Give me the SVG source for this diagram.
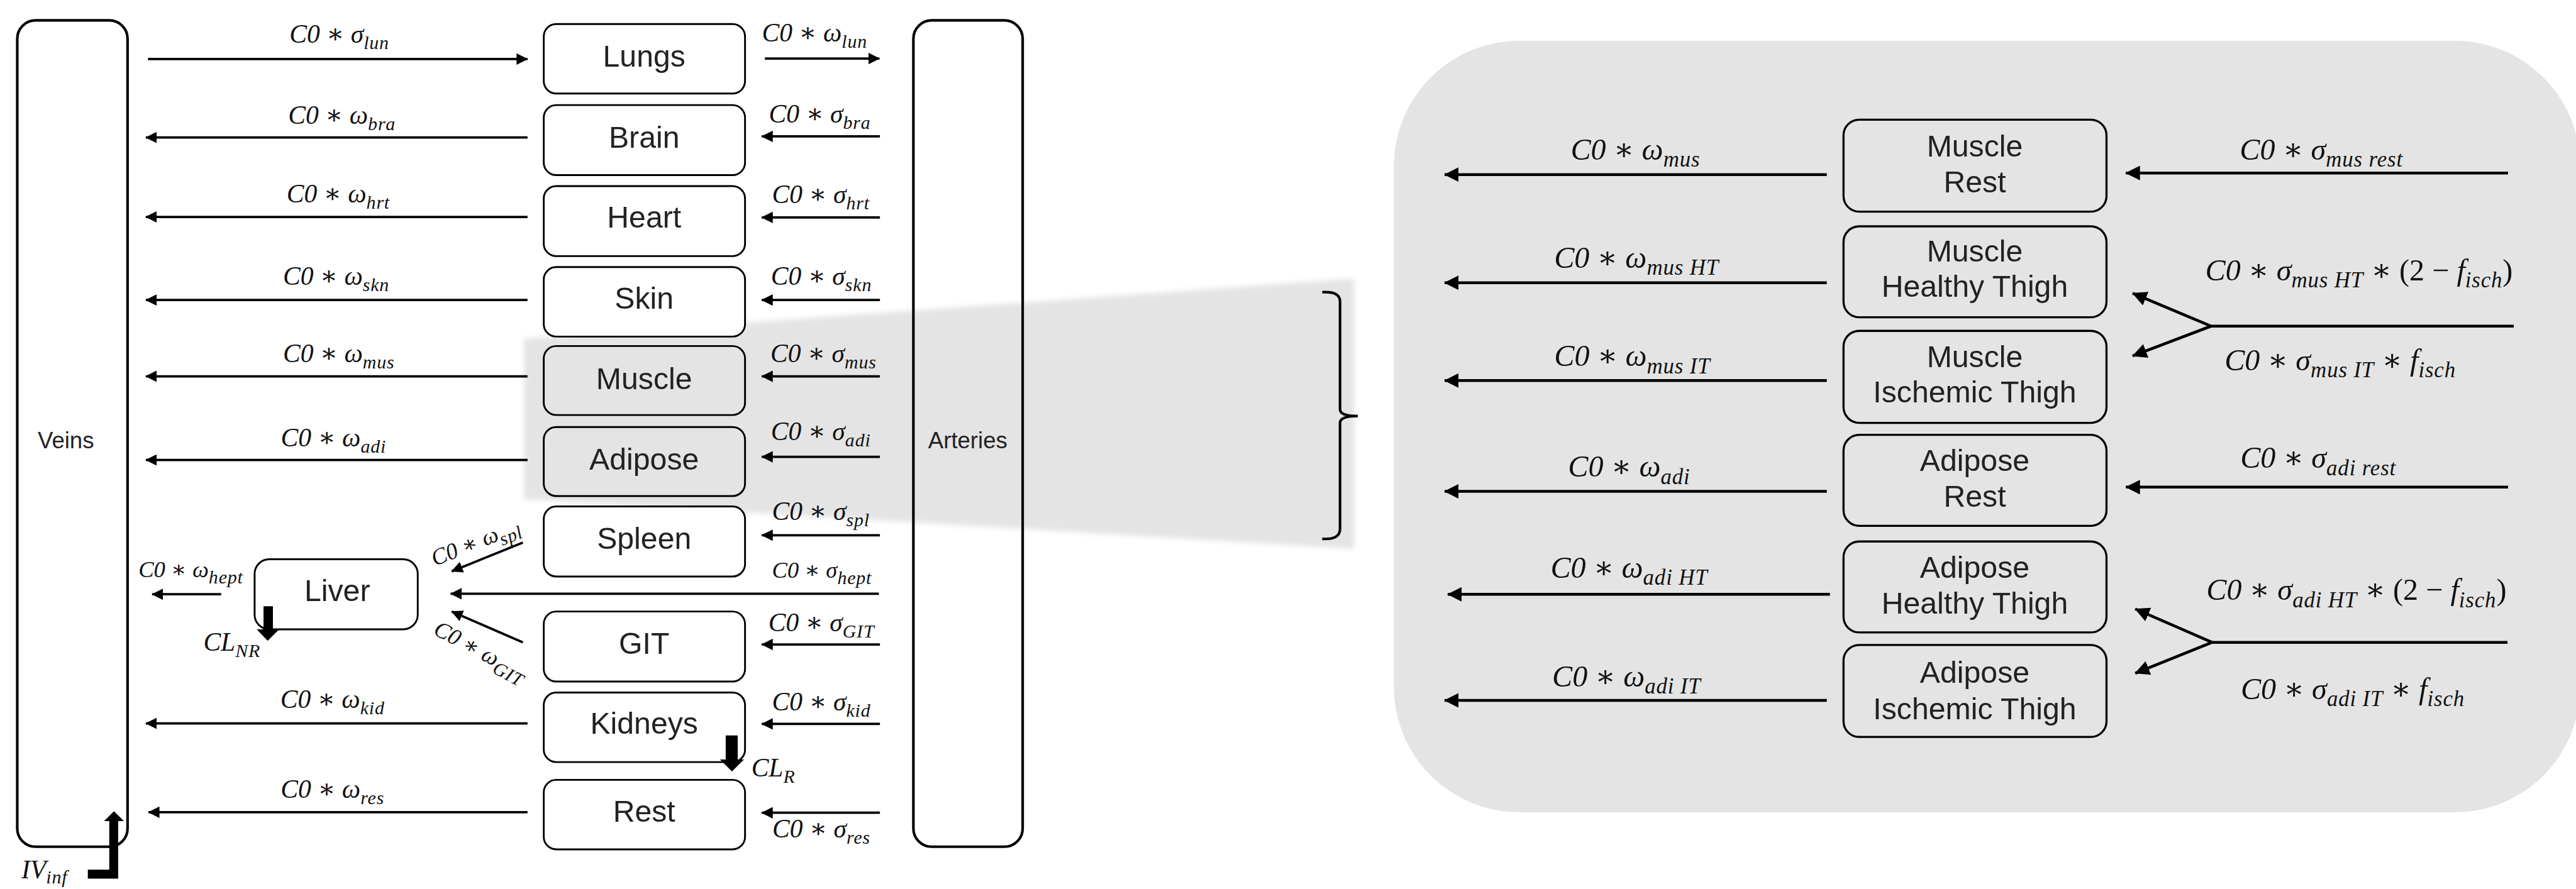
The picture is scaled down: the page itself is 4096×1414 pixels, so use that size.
<svg xmlns="http://www.w3.org/2000/svg" width="4096" height="1414" viewBox="0 0 4096 1414">
<defs>
<style>
.box{fill:#fff;stroke:#000;stroke-width:3.5}
.gbox{fill:#e4e4e4;stroke:#000;stroke-width:3.5}
.pbox{fill:#e4e4e4;stroke:#000;stroke-width:4}
.big{fill:none;stroke:#000;stroke-width:5}
.lbl{font-family:"Liberation Sans",Arial,sans-serif;font-size:58px;fill:#222;text-anchor:middle}
.vl{font-family:"Liberation Sans",Arial,sans-serif;font-size:44px;fill:#222;text-anchor:middle}
.m{font-family:"Liberation Serif","DejaVu Serif",serif;font-style:italic;font-size:50px;fill:#111;text-anchor:middle}
.ms{font-size:44px}
.m2{font-family:"Liberation Serif","DejaVu Serif",serif;font-style:italic;font-size:58px;fill:#111;text-anchor:middle}
.s{font-size:36px;letter-spacing:1px}
.s2{font-size:42px;letter-spacing:1px}
.u{font-style:normal}
.st{text-anchor:start}
.a{stroke:#000;stroke-width:4.5;fill:none;marker-end:url(#ah)}
.a2{stroke:#000;stroke-width:5.5;fill:none;marker-end:url(#ah2)}
.ln{stroke:#000;stroke-width:5.5;fill:none}
.fat{fill:#000;stroke:none}
</style>
<marker id="ah" viewBox="0 0 22 22" markerWidth="22" markerHeight="22" refX="21" refY="11" orient="auto" markerUnits="userSpaceOnUse"><path d="M0,0 L22,11 L0,22 z" fill="#000"/></marker>
<marker id="ah2" viewBox="0 0 28 28" markerWidth="28" markerHeight="28" refX="27" refY="14" orient="auto" markerUnits="userSpaceOnUse"><path d="M0,0 L28,14 L0,28 z" fill="#000"/></marker>
<filter id="soft" x="-5%" y="-10%" width="110%" height="120%"><feGaussianBlur stdDeviation="5"/></filter>
</defs>
<rect width="4096" height="1414" fill="#fff"/>
<g transform="scale(0.83134)">
<!-- zoom band -->
<polygon points="1002,648 2590,533 2590,1050 1002,955" fill="#e4e4e4" filter="url(#soft)"/>
<!-- right panel -->
<rect id="panel" x="2666" y="78" width="2269" height="1476" rx="240" ry="240" fill="#e4e4e4"/>

<g id="veins"><rect class="big" x="33" y="39" width="211" height="1581" rx="35"/><text class="vl" x="126" y="858">Veins</text></g>
<g id="arteries"><rect class="big" x="1747" y="39" width="209" height="1581" rx="35"/><text class="vl" x="1851" y="858">Arteries</text></g>

<g id="lungs"><rect class="box" x="1040" y="46" width="385" height="133" rx="24"/><text class="lbl" x="1232" y="127">Lungs</text></g>
<g id="brain"><rect class="box" x="1040" y="201" width="385" height="134" rx="24"/><text class="lbl" x="1232" y="283">Brain</text></g>
<g id="heart"><rect class="box" x="1040" y="356" width="385" height="134" rx="24"/><text class="lbl" x="1232" y="436">Heart</text></g>
<g id="skin"><rect class="box" x="1040" y="511" width="385" height="133" rx="24"/><text class="lbl" x="1232" y="591">Skin</text></g>
<g id="muscle"><rect class="gbox" x="1040" y="662" width="385" height="132" rx="24"/><text class="lbl" x="1232" y="744">Muscle</text></g>
<g id="adipose"><rect class="gbox" x="1040" y="817" width="385" height="132" rx="24"/><text class="lbl" x="1232" y="898">Adipose</text></g>
<g id="spleen"><rect class="box" x="1040" y="969" width="385" height="134" rx="24"/><text class="lbl" x="1232" y="1050">Spleen</text></g>
<g id="git"><rect class="box" x="1040" y="1170" width="385" height="134" rx="24"/><text class="lbl" x="1232" y="1251">GIT</text></g>
<g id="kidneys"><rect class="box" x="1040" y="1325" width="385" height="133" rx="24"/><text class="lbl" x="1232" y="1404">Kidneys</text></g>
<g id="rest"><rect class="box" x="1040" y="1492" width="385" height="133" rx="24"/><text class="lbl" x="1232" y="1572">Rest</text></g>
<g id="liver"><rect class="box" x="487" y="1070" width="312" height="134" rx="28"/><text class="lbl" x="645" y="1150">Liver</text></g>

<g id="p-mus-rest"><rect class="pbox" x="3526" y="229" width="503" height="176" rx="30"/><text class="lbl" x="3777" y="299">Muscle</text><text class="lbl" x="3777" y="368">Rest</text></g>
<g id="p-mus-ht"><rect class="pbox" x="3526" y="433" width="503" height="174" rx="30"/><text class="lbl" x="3777" y="500">Muscle</text><text class="lbl" x="3777" y="568">Healthy Thigh</text></g>
<g id="p-mus-it"><rect class="pbox" x="3526" y="633" width="503" height="176" rx="30"/><text class="lbl" x="3777" y="702">Muscle</text><text class="lbl" x="3777" y="770">Ischemic Thigh</text></g>
<g id="p-adi-rest"><rect class="pbox" x="3526" y="832" width="503" height="174" rx="30"/><text class="lbl" x="3777" y="901">Adipose</text><text class="lbl" x="3777" y="970">Rest</text></g>
<g id="p-adi-ht"><rect class="pbox" x="3526" y="1036" width="503" height="174" rx="30"/><text class="lbl" x="3777" y="1105">Adipose</text><text class="lbl" x="3777" y="1174">Healthy Thigh</text></g>
<g id="p-adi-it"><rect class="pbox" x="3526" y="1234" width="503" height="176" rx="30"/><text class="lbl" x="3777" y="1306">Adipose</text><text class="lbl" x="3777" y="1376">Ischemic Thigh</text></g>

<g id="connectors">
<line class="a" x1="283" y1="113" x2="1009" y2="113"/>
<line class="a" x1="1009" y1="263" x2="279" y2="263"/>
<line class="a" x1="1009" y1="415" x2="279" y2="415"/>
<line class="a" x1="1009" y1="574" x2="279" y2="574"/>
<line class="a" x1="1009" y1="720" x2="279" y2="720"/>
<line class="a" x1="1009" y1="880" x2="279" y2="880"/>
<line class="a" x1="1009" y1="1384" x2="279" y2="1384"/>
<line class="a" x1="1009" y1="1554" x2="284" y2="1554"/>
<line class="a" x1="1463" y1="112" x2="1682" y2="112"/>
<line class="a" x1="1683" y1="261" x2="1457" y2="261"/>
<line class="a" x1="1683" y1="416" x2="1457" y2="416"/>
<line class="a" x1="1683" y1="574" x2="1457" y2="574"/>
<line class="a" x1="1683" y1="720" x2="1457" y2="720"/>
<line class="a" x1="1683" y1="874" x2="1457" y2="874"/>
<line class="a" x1="1683" y1="1024" x2="1457" y2="1024"/>
<line class="a" x1="1683" y1="1233" x2="1457" y2="1233"/>
<line class="a" x1="1683" y1="1385" x2="1457" y2="1385"/>
<line class="a" x1="1683" y1="1555" x2="1457" y2="1555"/>
<line class="a" x1="1681" y1="1136" x2="862" y2="1136"/>
<line class="a" x1="1000" y1="1038" x2="864" y2="1093"/>
<line class="a" x1="1000" y1="1229" x2="864" y2="1170"/>
<line class="a" x1="423" y1="1137" x2="291" y2="1137"/>
<path class="fat" d="M504,1160 H522 V1204 H534 L512,1226 L491,1204 H504 Z"/>
<path class="fat" d="M1388,1407 H1411 V1453 H1423 L1400,1476 L1377,1453 H1388 Z"/>
<path class="fat" d="M168,1664 H209 V1571 H199 L218,1552 L237,1571 H226 V1681 H168 Z"/>
<path d="M2529,559 Q2563,557 2563,577 L2563,783 Q2563,796 2597,796 Q2563,796 2563,809 L2563,1012 Q2563,1033 2529,1031" fill="none" stroke="#000" stroke-width="5"/>
<line class="a2" x1="3494" y1="334" x2="2763" y2="334"/>
<line class="a2" x1="3494" y1="541" x2="2763" y2="541"/>
<line class="a2" x1="3494" y1="728" x2="2763" y2="728"/>
<line class="a2" x1="3494" y1="940" x2="2763" y2="940"/>
<line class="a2" x1="3500" y1="1137" x2="2769" y2="1137"/>
<line class="a2" x1="3494" y1="1340" x2="2763" y2="1340"/>
<line class="a2" x1="4797" y1="331" x2="4066" y2="331"/>
<line class="a2" x1="4797" y1="932" x2="4066" y2="932"/>
<line class="ln" x1="4808" y1="624" x2="4229" y2="624"/>
<line class="a2" x1="4229" y1="624" x2="4079" y2="561"/>
<line class="a2" x1="4229" y1="624" x2="4079" y2="681"/>
<line class="ln" x1="4796" y1="1229" x2="4231" y2="1229"/>
<line class="a2" x1="4231" y1="1229" x2="4084" y2="1165"/>
<line class="a2" x1="4231" y1="1229" x2="4084" y2="1288"/>
</g>

<g id="labels">
<text class="m" x="649" y="82">C0 <tspan class="u">∗</tspan> σ<tspan class="s" dy="12">lun</tspan></text>
<text class="m" x="654" y="237">C0 <tspan class="u">∗</tspan> ω<tspan class="s" dy="12">bra</tspan></text>
<text class="m" x="647" y="387">C0 <tspan class="u">∗</tspan> ω<tspan class="s" dy="12">hrt</tspan></text>
<text class="m" x="643" y="545">C0 <tspan class="u">∗</tspan> ω<tspan class="s" dy="12">skn</tspan></text>
<text class="m" x="648" y="693">C0 <tspan class="u">∗</tspan> ω<tspan class="s" dy="12">mus</tspan></text>
<text class="m" x="638" y="854">C0 <tspan class="u">∗</tspan> ω<tspan class="s" dy="12">adi</tspan></text>
<text class="m" x="636" y="1355">C0 <tspan class="u">∗</tspan> ω<tspan class="s" dy="12">kid</tspan></text>
<text class="m" x="636" y="1527">C0 <tspan class="u">∗</tspan> ω<tspan class="s" dy="12">res</tspan></text>
<text class="m ms" x="365" y="1104">C0 <tspan class="u">∗</tspan> ω<tspan class="s" dy="12">hept</tspan></text>
<text class="m st" x="389" y="1245">CL<tspan class="s" dy="12">NR</tspan></text>
<text class="m st" x="1437" y="1486">CL<tspan class="s" dy="12">R</tspan></text>
<text class="m st" x="41" y="1680">IV<tspan class="s" dy="10">inf</tspan></text>
<text class="m ms" x="915" y="1050" transform="rotate(-22 915 1050)">C0 <tspan class="u">∗</tspan> ω<tspan class="s" dy="12">spl</tspan></text>
<text class="m ms" x="913" y="1258" transform="rotate(28 913 1258)">C0 <tspan class="u">∗</tspan> ω<tspan class="s" dy="12">GIT</tspan></text>
<text class="m" x="1558" y="79">C0 <tspan class="u">∗</tspan> ω<tspan class="s" dy="12">lun</tspan></text>
<text class="m" x="1568" y="234">C0 <tspan class="u">∗</tspan> σ<tspan class="s" dy="12">bra</tspan></text>
<text class="m" x="1570" y="389">C0 <tspan class="u">∗</tspan> σ<tspan class="s" dy="12">hrt</tspan></text>
<text class="m" x="1571" y="545">C0 <tspan class="u">∗</tspan> σ<tspan class="s" dy="12">skn</tspan></text>
<text class="m" x="1575" y="693">C0 <tspan class="u">∗</tspan> σ<tspan class="s" dy="12">mus</tspan></text>
<text class="m" x="1570" y="842">C0 <tspan class="u">∗</tspan> σ<tspan class="s" dy="12">adi</tspan></text>
<text class="m" x="1570" y="995">C0 <tspan class="u">∗</tspan> σ<tspan class="s" dy="12">spl</tspan></text>
<text class="m ms" x="1572" y="1106">C0 <tspan class="u">∗</tspan> σ<tspan class="s" dy="12">hept</tspan></text>
<text class="m" x="1571" y="1208">C0 <tspan class="u">∗</tspan> σ<tspan class="s" dy="12">GIT</tspan></text>
<text class="m" x="1571" y="1359">C0 <tspan class="u">∗</tspan> σ<tspan class="s" dy="12">kid</tspan></text>
<text class="m" x="1571" y="1602">C0 <tspan class="u">∗</tspan> σ<tspan class="s" dy="12">res</tspan></text>

<text class="m2" x="3128" y="305">C0 <tspan class="u">∗</tspan> ω<tspan class="s2" dy="14">mus</tspan></text>
<text class="m2" x="3130" y="512">C0 <tspan class="u">∗</tspan> ω<tspan class="s2" dy="14">mus HT</tspan></text>
<text class="m2" x="3122" y="700">C0 <tspan class="u">∗</tspan> ω<tspan class="s2" dy="14">mus IT</tspan></text>
<text class="m2" x="3116" y="912">C0 <tspan class="u">∗</tspan> ω<tspan class="s2" dy="14">adi</tspan></text>
<text class="m2" x="3116" y="1105">C0 <tspan class="u">∗</tspan> ω<tspan class="s2" dy="14">adi HT</tspan></text>
<text class="m2" x="3111" y="1313">C0 <tspan class="u">∗</tspan> ω<tspan class="s2" dy="14">adi IT</tspan></text>
<text class="m2" x="4440" y="305">C0 <tspan class="u">∗</tspan> σ<tspan class="s2" dy="14">mus rest</tspan></text>
<text class="m2" x="4434" y="895">C0 <tspan class="u">∗</tspan> σ<tspan class="s2" dy="14">adi rest</tspan></text>
<text class="m2" x="4512" y="536">C0 <tspan class="u">∗</tspan> σ<tspan class="s2" dy="14">mus HT</tspan><tspan class="u" dy="-14"> ∗ (2 − </tspan>f<tspan class="s2" dy="14">isch</tspan><tspan class="u" dy="-14">)</tspan></text>
<text class="m2" x="4476" y="708">C0 <tspan class="u">∗</tspan> σ<tspan class="s2" dy="14">mus IT</tspan><tspan class="u" dy="-14"> ∗ </tspan>f<tspan class="s2" dy="14">isch</tspan></text>
<text class="m2" x="4507" y="1148">C0 <tspan class="u">∗</tspan> σ<tspan class="s2" dy="14">adi HT</tspan><tspan class="u" dy="-14"> ∗ (2 − </tspan>f<tspan class="s2" dy="14">isch</tspan><tspan class="u" dy="-14">)</tspan></text>
<text class="m2" x="4500" y="1337">C0 <tspan class="u">∗</tspan> σ<tspan class="s2" dy="14">adi IT</tspan><tspan class="u" dy="-14"> ∗ </tspan>f<tspan class="s2" dy="14">isch</tspan></text>
</g>
</g>
</svg>
